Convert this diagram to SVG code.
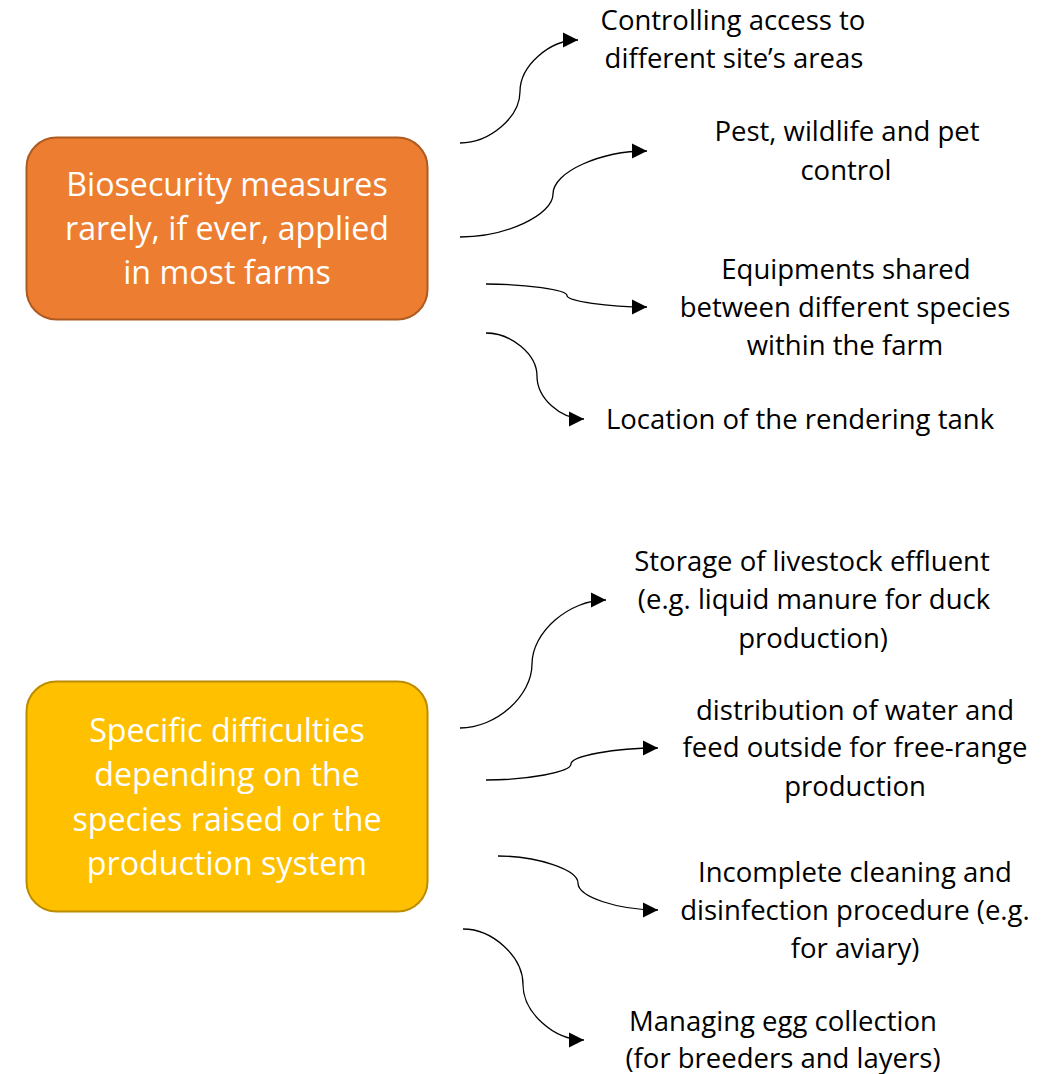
<svg xmlns="http://www.w3.org/2000/svg" width="1053" height="1074" viewBox="0 0 1053 1074">
<defs>
<marker id="arr" markerUnits="userSpaceOnUse" markerWidth="17" markerHeight="17" refX="15" refY="8" orient="auto">
<path d="M0,0.5 L15,8 L0,15.5 z" fill="#000"/>
</marker>
<style>
.lbl{font-family:"Open Sans","Liberation Sans",sans-serif;font-size:27.5px;fill:#000;text-anchor:middle;font-variant-ligatures:none}
.box{font-family:"Open Sans","Liberation Sans",sans-serif;font-size:32.2px;fill:#fff;text-anchor:middle;font-variant-ligatures:none}
.con{fill:none;stroke:#000;stroke-width:1.3;marker-end:url(#arr)}
</style>
</defs>
<rect width="1053" height="1074" fill="#fff"/>
<g id="n-bio">
<rect x="26.5" y="137.5" width="401" height="182" rx="30" fill="#ED7D31" stroke="#AE5A21" stroke-width="2"/>
<text class="box" x="227" y="196">Biosecurity measures</text>
<text class="box" x="227" y="240">rarely, if ever, applied</text>
<text class="box" x="227" y="284">in most farms</text>
</g>
<g id="n-spec">
<rect x="26.5" y="681.5" width="401" height="230" rx="30" fill="#FFC000" stroke="#BC8C00" stroke-width="2"/>
<text class="box" x="227" y="742">Specific difficulties</text>
<text class="box" x="227" y="786">depending on the</text>
<text class="box" x="227" y="831">species raised or the</text>
<text class="box" x="227" y="875">production system</text>
</g>
<g id="n-access"><text class="lbl" x="733" y="30">Controlling access to</text><text class="lbl" x="734" y="68">different site’s areas</text></g>
<g id="n-pest"><text class="lbl" x="847" y="141">Pest, wildlife and pet</text><text class="lbl" x="846" y="180">control</text></g>
<g id="n-equip"><text class="lbl" x="846" y="279">Equipments shared</text><text class="lbl" x="845" y="317">between different species</text><text class="lbl" x="845" y="355">within the farm</text></g>
<g id="n-tank"><text class="lbl" x="800" y="429">Location of the rendering tank</text></g>
<g id="n-storage"><text class="lbl" x="812" y="571">Storage of livestock effluent</text><text class="lbl" x="814" y="609">(e.g. liquid manure for duck</text><text class="lbl" x="813" y="648">production)</text></g>
<g id="n-water"><text class="lbl" x="855" y="720">distribution of water and</text><text class="lbl" x="855" y="757">feed outside for free-range</text><text class="lbl" x="855" y="796">production</text></g>
<g id="n-clean"><text class="lbl" x="855" y="882">Incomplete cleaning and</text><text class="lbl" x="855" y="920">disinfection procedure (e.g.</text><text class="lbl" x="855" y="958">for aviary)</text></g>
<g id="n-egg"><text class="lbl" x="783" y="1031">Managing egg collection</text><text class="lbl" x="783" y="1068">(for breeders and layers)</text></g>
<g id="connectors">
<path class="con" d="M460,143 C490,143 520,117 520,91.5 C520,66 549,40 578,40"/>
<path class="con" d="M460,237 C506,237 553,215 553,194 C553,172 600,151 647,151"/>
<path class="con" d="M486,284 C526,284 567,290 567,295.5 C567,301 607,307 647,307"/>
<path class="con" d="M486,333 C511,333 537,354 537,376 C537,398 560,419 584,419"/>
<path class="con" d="M460,728 C496,728 532,696 532,664 C532,632 569,600 606,600"/>
<path class="con" d="M486,780 C528,780 571,772 571,764 C571,756 614,748 658,748"/>
<path class="con" d="M498,856 C538,856 578,870 578,883 C578,897 618,910 658,910"/>
<path class="con" d="M463,929 C493,929 523,957 523,984.5 C523,1012 553,1040 584,1040"/>
</g>
</svg>
